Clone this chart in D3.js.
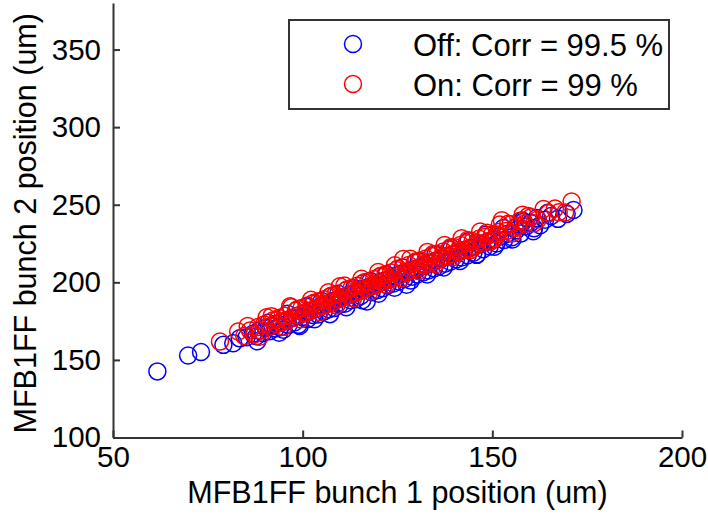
<!DOCTYPE html>
<html>
<head>
<meta charset="utf-8">
<script src="https://cdn.jsdelivr.net/npm/d3@7"></script>
<style>
  html, body { margin: 0; padding: 0; background: #fff; }
  svg { display: block; }
  text { font-family: "Liberation Sans", Arial, sans-serif; fill: #000; }
</style>
</head>
<body>
<svg id="chart" width="708" height="521"></svg>
<script>
// ---- data ----
const xTicks = [50, 100, 150, 200];
const yTicks = [100, 150, 200, 250, 300, 350];
const xDomain = [50, 200];
const yDomain = [100, 380];
const xTitle = "MFB1FF bunch 1 position (um)";
const yTitle = "MFB1FF bunch 2 position (um)";
const seriesNames = ["Off: Corr = 99.5 %", "On: Corr = 99 %"];
const seriesColors = ["#0000ff", "#ff0000"];

const offX = [61.7, 69.8, 73.2, 79.1, 81.7, 83.4, 85.2, 86.9, 87.8, 88.5, 89.6, 90.3, 91.2, 92.0, 92.9, 93.4, 94.1, 94.9, 95.6, 96.3,
  97.1, 97.8, 98.4, 99.2, 99.9, 100.6, 101.3, 101.9, 102.7, 103.5, 104.1, 104.8, 105.6, 106.2, 106.9, 107.7, 108.3, 109.0, 109.8, 110.4,
  111.1, 111.9, 112.6, 113.2, 114.0, 114.7, 115.3, 116.1, 116.9, 117.5, 118.2, 119.0, 119.7, 120.3, 121.1, 121.8, 122.4, 123.2, 123.9, 124.6,
  125.3, 126.0, 126.8, 127.4, 128.1, 128.9, 129.6, 130.2, 131.0, 131.7, 132.5, 133.1, 133.9, 134.6, 135.2, 136.0, 136.8, 137.5, 138.1, 138.9,
  139.7, 140.4, 141.2, 141.9, 142.7, 143.5, 144.3, 145.0, 145.9, 146.8, 147.6, 148.5, 149.3, 150.2, 151.1, 152.0, 153.1, 154.0, 155.2, 156.3,
  157.5, 158.8, 160.1, 161.7, 162.6, 163.9, 165.5, 167.3, 169.6, 171.4, 158.0, 161.0,
  88.0, 90.9, 93.8, 96.0, 98.9, 101.0, 103.1, 105.0, 107.2, 109.4, 111.5, 113.6, 115.7, 117.9, 120.0, 122.1, 124.2, 126.4, 128.5, 130.6,
  132.8, 135.0, 137.2, 139.3, 141.5, 143.7, 146.0, 148.3, 150.6, 152.9, 155.3, 157.9, 160.8, 164.6];
const offY = [142.6, 152.8, 155.1, 159.7, 160.8, 163.9, 164.6, 166.8, 165.2, 168.9, 167.3, 170.6, 168.4, 171.9, 170.2, 173.5, 171.0, 169.4, 175.2, 172.6,
  176.9, 174.1, 178.3, 171.8, 177.6, 180.2, 176.4, 181.5, 178.9, 183.0, 179.2, 184.6, 181.3, 186.0, 182.7, 187.4, 183.5, 188.9, 185.6, 190.3,
  186.2, 191.7, 188.4, 193.0, 189.1, 194.5, 191.2, 195.8, 187.6, 197.1, 193.6, 198.3, 195.0, 199.8, 196.2, 201.4, 197.9, 202.6, 199.3, 204.1,
  200.5, 205.7, 202.2, 198.4, 207.0, 203.6, 208.4, 205.1, 209.9, 206.3, 211.2, 207.6, 212.8, 209.0, 214.1, 210.4, 215.5, 212.0, 216.9, 213.3,
  218.2, 214.7, 219.6, 216.0, 221.0, 217.4, 222.3, 219.1, 217.7, 224.6, 221.3, 226.0, 223.1, 227.4, 225.0, 229.5, 227.2, 231.3, 229.0, 233.6,
  231.4, 235.9, 238.3, 241.4, 236.8, 240.3, 242.7, 240.9, 244.1, 246.6, 238.8, 234.9,
  162.0, 174.0, 167.5, 179.8, 172.6, 184.3, 176.2, 188.0, 179.5, 192.6, 184.0, 196.4, 188.5, 200.9, 192.6, 205.2, 196.5, 209.6, 201.1, 213.5,
  205.0, 218.0, 209.5, 222.1, 213.7, 226.5, 218.1, 230.6, 222.9, 235.0, 227.6, 239.8, 232.9, 244.8];

const onX = [78.2, 83.0, 84.6, 86.1, 87.3, 88.2, 89.0, 89.8, 90.5, 91.4, 92.2, 93.0, 93.7, 94.5, 95.3, 96.0, 96.7, 97.5, 98.2, 99.0,
  99.7, 100.4, 101.2, 101.9, 102.6, 103.4, 104.2, 104.9, 105.7, 106.4, 107.1, 107.9, 108.6, 109.3, 109.8, 110.6, 111.4, 112.1, 112.9, 113.6,
  114.3, 115.1, 115.8, 116.6, 117.3, 118.1, 118.8, 119.5, 120.3, 121.0, 121.8, 122.5, 123.3, 124.0, 124.7, 125.5, 126.5, 127.2, 128.0, 128.7,
  129.5, 130.2, 131.0, 131.8, 132.5, 133.3, 134.0, 134.8, 135.5, 136.3, 137.1, 137.8, 138.6, 139.3, 140.1, 140.9, 141.6, 142.4, 143.2, 144.0,
  144.8, 145.6, 146.5, 147.3, 148.2, 149.0, 149.9, 150.8, 151.7, 152.5, 153.6, 154.8, 156.0, 157.3, 158.6, 160.2, 162.0, 164.8, 166.5, 167.5,
  169.2, 170.9,
  85.5, 88.7, 91.8, 94.9, 97.0, 99.4, 102.2, 104.5, 106.8, 108.9, 111.0, 113.3, 115.5, 117.7, 119.9, 122.0, 124.3, 126.0, 128.4, 130.6,
  132.9, 135.1, 137.4, 139.7, 141.9, 144.3, 146.8, 149.5, 152.0, 155.4, 158.0, 161.0, 163.5,
  93.2, 95.8, 98.6, 100.9, 103.0, 105.3, 107.5, 109.6, 111.8, 114.0, 116.2, 118.4, 120.6, 122.9, 125.1, 127.6, 129.9, 132.1, 134.4, 136.7,
  139.0, 141.2, 143.5, 145.9, 148.6, 151.2, 154.2, 156.8, 159.5];
const onY = [161.8, 168.3, 165.4, 168.9, 166.5, 171.2, 169.0, 172.8, 177.5, 171.5, 175.6, 173.2, 177.0, 174.1, 178.4, 175.9, 184.5, 177.3, 181.6, 178.8,
  183.4, 180.1, 185.0, 181.7, 186.2, 183.0, 187.8, 184.4, 189.1, 186.0, 190.7, 187.2, 192.0, 188.9, 197.5, 190.4, 194.9, 191.6, 196.3, 193.0,
  197.8, 194.5, 199.2, 195.9, 200.6, 197.4, 202.1, 198.7, 203.6, 200.2, 205.0, 201.5, 206.4, 203.1, 207.9, 204.4, 215.0, 206.3, 211.2, 207.9,
  212.6, 209.1, 214.0, 210.8, 215.4, 212.2, 216.9, 213.5, 218.3, 215.0, 219.8, 216.4, 221.2, 217.9, 222.6, 219.3, 224.0, 220.7, 225.3, 222.0,
  226.7, 223.5, 228.0, 225.2, 229.4, 226.6, 230.8, 228.1, 232.5, 240.0, 233.0, 237.4, 235.1, 239.6, 237.8, 242.0, 240.5, 244.6, 247.5, 245.2,
  245.0, 252.1,
  171.8, 164.9, 178.2, 171.3, 183.9, 176.2, 188.8, 180.9, 193.6, 185.3, 197.9, 189.8, 202.3, 194.1, 206.6, 198.4, 211.0, 202.6, 215.2, 207.3,
  219.6, 211.7, 224.0, 216.3, 228.4, 220.9, 232.8, 226.1, 237.3, 231.6, 243.6, 238.1, 247.3,
  175.9, 175.3, 182.6, 180.5, 186.9, 185.0, 191.3, 189.2, 195.6, 193.5, 200.0, 197.8, 204.3, 202.4, 208.9, 207.0, 213.6, 211.5, 218.2, 216.2,
  222.6, 220.8, 227.2, 225.4, 232.0, 230.8, 237.8, 236.4, 242.8];

// ---- layout ----
const svg = d3.select("#chart");
const plot = { left: 113, right: 682, top: 3, bottom: 437.5 };
const x = d3.scaleLinear().domain(xDomain).range([plot.left, plot.right]);
const y = d3.scaleLinear().domain(yDomain).range([plot.bottom, plot.top]);
const axisColor = "#333";
const tickFont = 29.5;
const titleFont = 30.5;
const legendFont = 31;
const markerR = 8.5;
const markerStroke = 1.5;

// points
const series = [
  { xs: offX, ys: offY, color: seriesColors[0] },
  { xs: onX, ys: onY, color: seriesColors[1] }
];
series.forEach(s => {
  svg.append("g")
    .selectAll("circle")
    .data(d3.range(s.xs.length))
    .join("circle")
    .attr("cx", i => x(s.xs[i]))
    .attr("cy", i => y(s.ys[i]))
    .attr("r", markerR)
    .attr("fill", "none")
    .attr("stroke", s.color)
    .attr("stroke-width", markerStroke);
});

// axes
const xAxis = d3.axisBottom(x).tickValues(xTicks).tickSizeInner(-7).tickSizeOuter(0).tickPadding(9);
const yAxis = d3.axisLeft(y).tickValues(yTicks).tickSizeInner(-7).tickSizeOuter(0).tickPadding(12);

const gx = svg.append("g").attr("transform", `translate(0,${plot.bottom})`).call(xAxis);
const gy = svg.append("g").attr("transform", `translate(${plot.left},0)`).call(yAxis);
[gx, gy].forEach(g => {
  g.select(".domain").attr("stroke", axisColor).attr("stroke-width", 2);
  g.selectAll(".tick line").attr("stroke", axisColor).attr("stroke-width", 2);
  g.selectAll(".tick text")
    .attr("font-family", "Liberation Sans, Arial, sans-serif")
    .attr("font-size", tickFont)
    .attr("fill", "#000");
});

// axis titles
svg.append("text")
  .attr("x", (plot.left + plot.right) / 2)
  .attr("y", 503)
  .attr("text-anchor", "middle")
  .attr("font-size", titleFont)
  .text(xTitle);

svg.append("text")
  .attr("transform", `translate(36,${(plot.top + plot.bottom) / 2 + 3}) rotate(-90)`)
  .attr("text-anchor", "middle")
  .attr("font-size", titleFont)
  .text(yTitle);

// legend
const leg = svg.append("g");
leg.append("rect")
  .attr("x", 289).attr("y", 20).attr("width", 380).attr("height", 89)
  .attr("fill", "#fff").attr("stroke", axisColor).attr("stroke-width", 2);
const legRows = [44, 84];
seriesNames.forEach((name, i) => {
  leg.append("circle")
    .attr("cx", 353).attr("cy", legRows[i]).attr("r", markerR)
    .attr("fill", "none").attr("stroke", seriesColors[i]).attr("stroke-width", markerStroke);
  leg.append("text")
    .attr("x", 413).attr("y", legRows[i] + 12)
    .attr("font-size", legendFont)
    .text(name);
});
</script>
</body>
</html>
